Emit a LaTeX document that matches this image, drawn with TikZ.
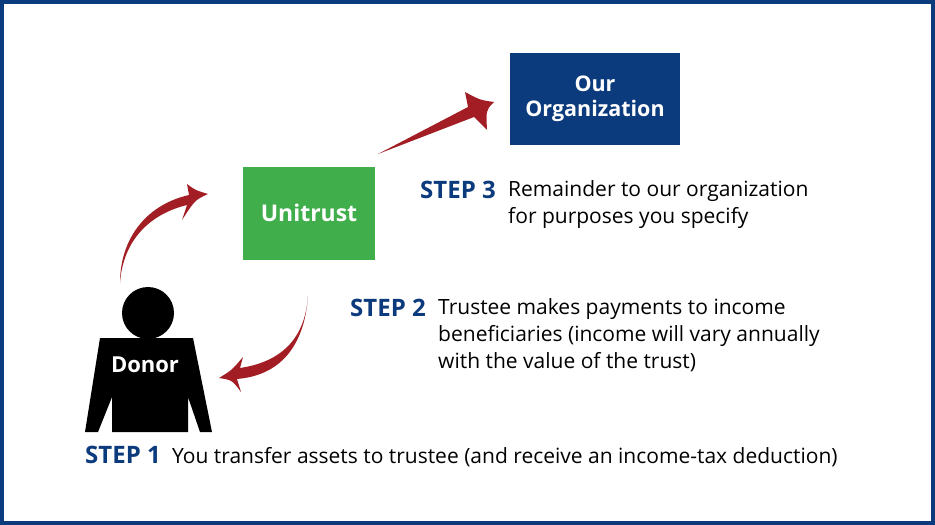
\documentclass[tikz,border=0pt]{standalone}
\usepackage{fontspec}
\setmainfont{Open Sans}
\definecolor{navy}{HTML}{0B3B7C}
\definecolor{grn}{HTML}{3FAE4B}
\definecolor{arr}{HTML}{A21E24}
\begin{document}
\begin{tikzpicture}[x=1pt,y=-1pt,
  box/.style={draw=none,inner sep=0,text=white,font=\fontsize{21.5}{26}\selectfont\bfseries,align=center},
  steplbl/.style={anchor=base west,inner sep=0,text=navy,font=\fontsize{24}{28}\selectfont\bfseries},
  txt/.style={anchor=base west,inner sep=0,align=left,font=\fontsize{21}{27}\selectfont}]
\useasboundingbox (0,0) rectangle (935,525);
\draw[navy,line width=4] (2,2) rectangle (933,523);
\node[box,fill=navy,minimum width=170,minimum height=92] (org) at (595,99) {Our\\[-1pt]Organization};
\node[box,fill=grn,minimum width=132,minimum height=93,font=\fontsize{23}{26}\selectfont\bfseries] (uni) at (309,213) {Unitrust};
% donor
\fill (148,313) circle (26);
\fill (100,338) -- (193,338) -- (212,432) -- (200,432) -- (188,397) -- (188,432) -- (112,432) -- (112,397) -- (98,432) -- (85,432) -- cycle;
\node[text=white,font=\fontsize{22}{24}\selectfont\bfseries] (donor) at (145,365) {Donor};
% arrows
\fill[arr] (120,283) .. controls (120,240) and (145,205) .. (189,195) -- (187,184) .. controls (195,190) .. (208,194) .. controls (195,200) .. (182,220) -- (187,205) .. controls (150,214) and (123,240) .. (120,283) -- cycle;
\fill[arr] (308,296) .. controls (305,340) and (280,362) .. (240,368) -- (243,357) .. controls (232,370) .. (219,378) .. controls (232,380) .. (241,392) -- (237,379) .. controls (285,375) and (305,340) .. (308,296) -- cycle;
\fill[arr] (378,154) -- (468,107) -- (465,92) .. controls (480,100) .. (494,102) .. controls (486,110) .. (487,130) -- (474,117) -- cycle;
% steps
\node[steplbl] (s3) at (420,198) {STEP 3};
\node[txt] (t3a) at (508,196) {Remainder to our organization};
\node[txt] (t3b) at (508,223) {for purposes you specify};
\node[steplbl] (s2) at (350,316) {STEP 2};
\node[txt] (t2a) at (438,314) {Trustee makes payments to income};
\node[txt] (t2b) at (438,341) {beneficiaries (income will vary annually};
\node[txt] (t2c) at (438,368) {with the value of the trust)};
\node[steplbl] (s1) at (85,463) {STEP 1};
\node[txt] (t1) at (172,463) {You transfer assets to trustee (and receive an income-tax deduction)};
\end{tikzpicture}
\end{document}
